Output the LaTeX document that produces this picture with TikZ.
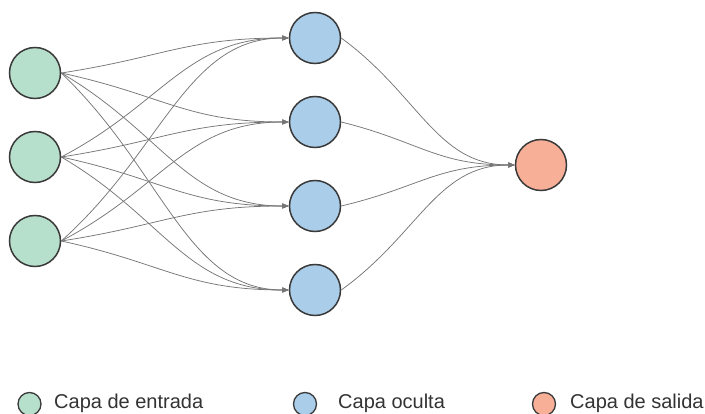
\documentclass[tikz,border=0pt]{standalone}
\usepackage{fontspec}
\setmainfont{Liberation Sans}
\usetikzlibrary{calc,arrows.meta}
\definecolor{ingreen}{RGB}{183,224,204}
\definecolor{hidblue}{RGB}{170,206,234}
\definecolor{outsalmon}{RGB}{248,175,152}
\definecolor{rim}{RGB}{58,58,58}
\definecolor{wire}{RGB}{118,118,118}
\definecolor{txt}{RGB}{51,51,51}
\tikzset{
  neuron/.style={circle,draw=rim,line width=1.5pt,minimum size=51pt,inner sep=0pt},
  keydot/.style={circle,draw=rim,line width=1.3pt,minimum size=23pt,inner sep=0pt},
  wirestyle/.style={draw=wire,line width=0.75pt,-{Triangle[length=6.5pt,width=5pt]}},
  keytext/.style={anchor=base west,text=txt,font=\fontsize{20pt}{23pt}\selectfont,inner sep=0pt}
}
\newcommand{\linkit}[2]{%
  \draw[wirestyle] (#1.east) .. controls ($(#1.east)!0.45!(#2.west)$) and ($(#2.west)!0.45!(#2.west -| #1.east)$) .. (#2.west);}
\begin{document}
\begin{tikzpicture}[x=1pt,y=-1pt]
\useasboundingbox (0,0) rectangle (705,414);
% input layer
\node[neuron,fill=ingreen] (i1) at (35,73) {};
\node[neuron,fill=ingreen] (i2) at (35,157) {};
\node[neuron,fill=ingreen] (i3) at (35,241) {};
% hidden layer
\node[neuron,fill=hidblue] (h1) at (315,38) {};
\node[neuron,fill=hidblue] (h2) at (315,122) {};
\node[neuron,fill=hidblue] (h3) at (315,206) {};
\node[neuron,fill=hidblue] (h4) at (315,290) {};
% output
\node[neuron,fill=outsalmon] (o1) at (541,165) {};
% connections
\foreach \s in {i1,i2,i3}{
  \foreach \t in {h1,h2,h3,h4}{
    \linkit{\s}{\t}
  }
}
\foreach \s in {h1,h2,h3,h4}{
  \linkit{\s}{o1}
}
% legend
\node[keydot,fill=ingreen] (k1) at (29.5,404) {};
\node[keytext] (t1) at (54,408) {Capa de entrada};
\node[keydot,fill=hidblue] (k2) at (305,404) {};
\node[keytext] (t2) at (338,408) {Capa oculta};
\node[keydot,fill=outsalmon] (k3) at (544,404) {};
\node[keytext] (t3) at (570,408) {Capa de salida};
\end{tikzpicture}
\end{document}
